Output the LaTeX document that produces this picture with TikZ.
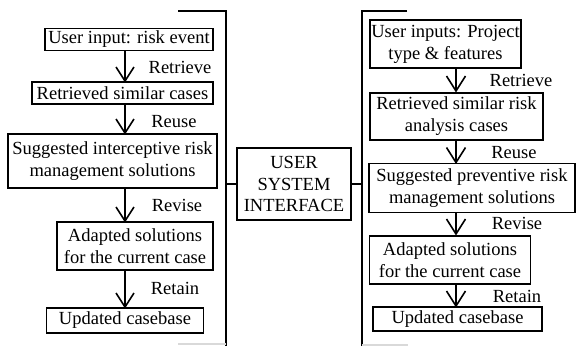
\documentclass[tikz,border=0pt]{standalone}
\usepackage{fontspec}
\setmainfont{Liberation Serif}
\begin{document}
\begin{tikzpicture}[x=1pt,y=-1pt,
  box/.style={draw,line width=1.7pt,inner sep=0pt,align=center,
    font=\fontsize{18.5}{22}\selectfont},
  lbl/.style={inner sep=0pt,font=\fontsize{18.5}{22}\selectfont},
  flow/.style={line width=1.6pt},
  vhead/.style={line width=1.6pt,line join=miter},
  frame/.style={line width=1.6pt},
  faint/.style={line width=1.5pt,black!15}]
\useasboundingbox (0,0) rectangle (576,346);
% left column
\node[box,minimum width=168pt,minimum height=22pt] (l1) at (129,39.5) {User input: risk event};
\node[box,minimum width=181pt,minimum height=22pt] (l2) at (122.5,93) {Retrieved similar cases};
\node[box,minimum width=209pt,minimum height=54pt] (l3) at (112.5,161) {Suggested interceptive risk\\management solutions};
\node[box,minimum width=156pt,minimum height=48pt] (l4) at (135,246) {Adapted solutions\\for the current case};
\node[box,minimum width=157pt,minimum height=25pt] (l5) at (125,320.5) {Updated casebase};
\coordinate (la1) at (125,50.5); \coordinate (lb1) at (125,81);
\coordinate (la2) at (125,104); \coordinate (lb2) at (125,133);
\coordinate (la3) at (125,188); \coordinate (lb3) at (125,221);
\coordinate (la4) at (125,270); \coordinate (lb4) at (125,307);
\foreach \a/\b in {la1/lb1,la2/lb2,la3/lb3,la4/lb4}{
  \draw[flow] (\a) -- (\b);
  \draw[vhead] (\b) ++(-9,-14) -- (\b) -- ++(9,-14);
}
\node[lbl] (t1) at (180,67) {Retrieve};
\node[lbl] (t2) at (174,122) {Reuse};
\node[lbl] (t3) at (177,205) {Revise};
\node[lbl] (t4) at (175,288) {Retain};
% left frame
\coordinate (lft) at (178,11); \coordinate (lcorner) at (226,11); \coordinate (lbot) at (226,346);
\draw[frame] (lft) -- (lcorner) -- (lbot);
\coordinate (lg1) at (178,344); \coordinate (lg2) at (226,344);
\draw[faint] (lg1) -- (lg2);
% centre
\node[box,minimum width=114pt,minimum height=72pt,
  font=\fontsize{18.5}{21.5}\selectfont] (usi) at (294,184) {USER\\SYSTEM\\INTERFACE};
\coordinate (lv) at (226,184); \coordinate (rv) at (362,184);
\draw[frame] (usi.west) -- (lv);
\draw[frame] (usi.east) -- (rv);
% right frame
\coordinate (rft) at (407,11); \coordinate (rcorner) at (362,11); \coordinate (rbot) at (362,346);
\draw[frame] (rft) -- (rcorner) -- (rbot);
\coordinate (rg1) at (362,345); \coordinate (rg2) at (408,345);
\draw[faint] (rg1) -- (rg2);
% right column
\node[box,minimum width=151pt,minimum height=48pt] (r1) at (445.5,44) {User inputs: Project\\type \& features};
\node[box,minimum width=173pt,minimum height=47pt] (r2) at (456.5,116.5) {Retrieved similar risk\\analysis cases};
\node[box,minimum width=206pt,minimum height=49pt] (r3) at (472,188) {Suggested preventive risk\\management solutions};
\node[box,minimum width=161pt,minimum height=48pt] (r4) at (450,260) {Adapted solutions\\for the current case};
\node[box,minimum width=169pt,minimum height=24pt] (r5) at (457.5,319) {Updated casebase};
\coordinate (ra1) at (456,68); \coordinate (rb1) at (456,91);
\coordinate (ra2) at (456,140); \coordinate (rb2) at (456,162.5);
\coordinate (ra3) at (456,212.5); \coordinate (rb3) at (456,234);
\coordinate (ra4) at (456,284); \coordinate (rb4) at (456,306);
\foreach \a/\b in {ra1/rb1,ra2/rb2,ra3/rb3,ra4/rb4}{
  \draw[flow] (\a) -- (\b);
  \draw[vhead] (\b) ++(-9.5,-15) -- (\b) -- ++(9.5,-15);
}
\node[lbl] (s1) at (521,80) {Retrieve};
\node[lbl] (s2) at (514,153) {Reuse};
\node[lbl] (s3) at (517,223) {Revise};
\node[lbl] (s4) at (517,296) {Retain};
\end{tikzpicture}
\end{document}
